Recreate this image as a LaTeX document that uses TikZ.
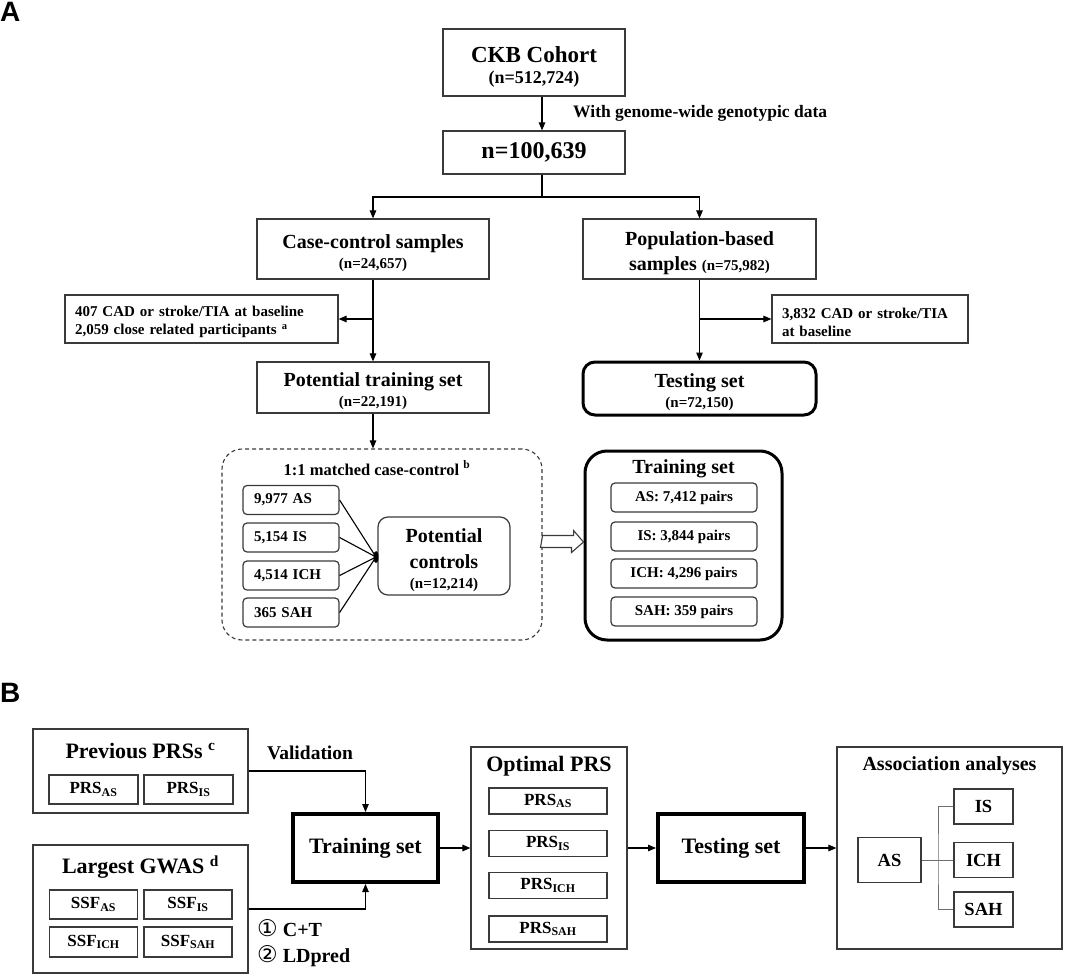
\documentclass[tikz,border=0pt]{standalone}
\usepackage{fontspec}
\setmainfont{Liberation Serif}
\newfontfamily\panelfont{Liberation Sans}
\newfontfamily\circfont{DejaVu Sans}
\usetikzlibrary{arrows.meta,calc}
\definecolor{boxgray}{HTML}{3A3A3A}
\definecolor{linkgray}{HTML}{6E6E6E}
\newcommand{\nsz}{\fontsize{15}{16}\selectfont}
\newcommand{\topstrut}{\rule{0pt}{1.1em}}

\begin{document}
\begin{tikzpicture}[x=1pt,y=-1pt,
        >={Stealth[length=8pt,width=6.5pt,inset=0pt]},
        f15/.style={font=\bfseries\fontsize{15}{18}\selectfont},
        f20/.style={font=\bfseries\fontsize{20}{20}\selectfont},
        f22/.style={font=\bfseries\fontsize{22}{24}\selectfont},
        panel/.style={anchor=base west,inner sep=0pt,font=\panelfont\bfseries\fontsize{28}{28}\selectfont},
        box/.style={draw=boxgray,line width=1.2pt,align=center,inner sep=0pt},
        leftbox/.style={box,f15,align=left,inner xsep=10pt},
        roundthick/.style={draw=black,line width=3pt,rounded corners=12pt,align=center,inner sep=0pt,f20},
        bigthick/.style={draw=black,line width=4pt,align=center,inner sep=0pt,f22},
        casebox/.style={box,rounded corners=4pt,f15,align=left,text width=74pt,inner xsep=11pt,minimum height=29pt},
        pairbox/.style={box,rounded corners=4pt,f15,minimum width=146pt,minimum height=29pt},
        subbox/.style={box,font=\bfseries\fontsize{17}{17}\selectfont},
        endbox/.style={box,font=\bfseries\fontsize{18.5}{18}\selectfont},
        conn/.style={draw=black,line width=1.1pt},
    ]
    \useasboundingbox (0,0) rectangle (1080,974);

    % ---- panel A
    \node[panel] (labA) at (0,22) {A};
    \node[box,minimum width=182,minimum height=67,font=\bfseries\fontsize{23}{21}\selectfont] (ckb) at (534,62.5)
        {\topstrut CKB Cohort\\{\fontsize{18}{16}\selectfont (n=512,724)}};
    \node[box,minimum width=182,minimum height=43,font=\bfseries\fontsize{24}{26}\selectfont] (n100) at (534,152.5) {n=100,639};
    \node[anchor=west,inner sep=0pt,font=\bfseries\fontsize{17.5}{20}\selectfont] (gwnote) at (573,113) {With genome-wide genotypic data};
    \coordinate (split) at (542,197);

    \node[box,f20,minimum width=232,minimum height=60] (cc) at (373,249) {\topstrut Case-control samples\\{\nsz (n=24,657)}};
    \node[box,minimum width=233,minimum height=60,font=\bfseries\fontsize{20}{25}\selectfont] (pop) at (699.5,249)
        {\topstrut Population-based\\samples {\nsz (n=75,982)}};
    \node[leftbox,text width=253,minimum height=48] (exL) at (201.5,319)
        {\topstrut 407 CAD or stroke/TIA at baseline\\2,059 close related participants \textsuperscript{a}};
    \node[leftbox,text width=176,minimum height=48] (exR) at (870,319)
        {\topstrut 3,832 CAD or stroke/TIA\\at baseline};
    \node[box,f20,minimum width=232,minimum height=51] (ptrain) at (373,387.5) {\topstrut Potential training set\\{\nsz (n=22,191)}};
    \node[roundthick,minimum width=233,minimum height=53] (testA) at (699.5,388.5) {\topstrut Testing set\\{\nsz (n=72,150)}};

    \draw[conn] (n100.south -| split) -- (split);
    \draw[conn,->] (ckb.south -| split) -- (n100.north -| split);
    \draw[conn,->] (split) -| (cc.north);
    \draw[conn,->] (split) -| (pop.north);
    \draw[conn,->] (cc.south) -- (ptrain.north);
    \draw[conn,->] (cc.south |- exL.east) -- (exL.east);
    \draw[conn,->] (pop.south) -- (testA.north);
    \draw[conn,->] (pop.south |- exR.west) -- (exR.west);

    % matching
    \node[draw=boxgray,line width=1.1pt,dash pattern=on 4pt off 3pt,rounded corners=20pt,
        minimum width=320,minimum height=191] (matchbox) at (382,544.5) {};
    \node[font=\bfseries\fontsize{16.5}{18}\selectfont] (matchtitle) at (377,468) {1:1 matched case-control \textsuperscript{b}};
    \draw[conn,->] (ptrain.south) -- (ptrain.south |- matchbox.north);
    \node[casebox] (caseAS) at (291,500) {9,977 AS};
    \node[casebox] (caseIS) at (291,537.5) {5,154 IS};
    \node[casebox] (caseICH) at (291,575.5) {4,514 ICH};
    \node[casebox] (caseSAH) at (291,612.5) {365 SAH};
    \node[box,rounded corners=10pt,minimum width=132,minimum height=78,font=\bfseries\fontsize{20}{26}\selectfont] (pctrl) at (444,556)
        {\topstrut Potential\\controls\\[-6pt]{\nsz (n=12,214)}};
    \coordinate (conv) at (376,557);
    \draw[conn] (caseAS.east) -- (conv);
    \draw[conn] (caseIS.east) -- (conv);
    \draw[conn] (caseICH.east) -- (conv);
    \draw[conn] (caseSAH.east) -- (conv);
    \fill (conv) ellipse [x radius=2.5, y radius=6];

    \node[roundthick,rounded corners=22pt,minimum width=197,minimum height=189] (trainA) at (683.5,545.5) {};
    \node[f20] (trainAtitle) at (683.5,469) {Training set};
    \node[pairbox] (pairAS) at (684,497.5) {AS: 7,412 pairs};
    \node[pairbox] (pairIS) at (684,536.5) {IS: 3,844 pairs};
    \node[pairbox] (pairICH) at (684,573.5) {ICH: 4,296 pairs};
    \node[pairbox] (pairSAH) at (684,611.5) {SAH: 359 pairs};

    % hollow arrow
    \coordinate (harrow) at ([yshift=3.5pt]matchbox.east);
    \draw[draw=boxgray,line width=1.1pt,fill=white] (harrow) ++(0,-5.5) -- ++(31,0) -- ++(0,-5)
        -- ([yshift=3.5pt]trainA.west) -- ++(-12,10.5) -- ++(0,-5) -- ++(-31,0) -- cycle;

    % ---- panel B
    \node[panel] (labB) at (0,702) {B};
    \node[box,minimum width=215,minimum height=84] (prev) at (140.5,771) {};
    \node[f22] (prevtitle) at (140.5,751) {Previous PRSs \textsuperscript{c}};
    \node[subbox,minimum width=89,minimum height=29] (prevAS) at (93.5,789.5) {PRS\textsubscript{AS}};
    \node[subbox,minimum width=89,minimum height=29] (prevIS) at (188.5,789.5) {PRS\textsubscript{IS}};

    \node[box,minimum width=215,minimum height=128] (gwas) at (140.5,909) {};
    \node[f22] (gwastitle) at (140.5,867) {Largest GWAS \textsuperscript{d}};
    \node[subbox,minimum width=88,minimum height=29] (ssfAS) at (93.5,904.5) {SSF\textsubscript{AS}};
    \node[subbox,minimum width=88,minimum height=29] (ssfIS) at (188,904.5) {SSF\textsubscript{IS}};
    \node[subbox,minimum width=88,minimum height=30] (ssfICH) at (93.5,942) {SSF\textsubscript{ICH}};
    \node[subbox,minimum width=88,minimum height=30] (ssfSAH) at (188,942) {SSF\textsubscript{SAH}};

    \node[bigthick,minimum width=145,minimum height=68] (trainB) at (365.5,848) {Training set};
    \node[font=\bfseries\fontsize{19.5}{20}\selectfont] (valid) at (310,753) {Validation};
    \node[anchor=west,align=left,inner sep=0pt,font=\bfseries\fontsize{20}{26}\selectfont] (methods) at (257,943)
        {{\circfont\mdseries\fontsize{23}{26}\selectfont ①} C+T\\{\circfont\mdseries\fontsize{23}{26}\selectfont ②} LDpred};

    \node[box,minimum width=156,minimum height=202] (optimal) at (549,848) {};
    \node[f22] (opttitle) at (549,766) {Optimal PRS};
    \node[subbox,minimum width=118,minimum height=26] (optAS) at (548,801) {PRS\textsubscript{AS}};
    \node[subbox,minimum width=118,minimum height=26] (optIS) at (548,843.5) {PRS\textsubscript{IS}};
    \node[subbox,minimum width=118,minimum height=26] (optICH) at (548,885.5) {PRS\textsubscript{ICH}};
    \node[subbox,minimum width=118,minimum height=26] (optSAH) at (548,929) {PRS\textsubscript{SAH}};

    \node[bigthick,minimum width=146,minimum height=68] (testB) at (731,848) {Testing set};

    \node[box,minimum width=225,minimum height=202] (assoc) at (949.5,848) {};
    \node[f20] (assoctitle) at (949.5,766) {Association analyses};
    \node[endbox,minimum width=63,minimum height=45] (asAS) at (889.5,860) {AS};
    \node[endbox,minimum width=59,minimum height=35] (asIS) at (983.5,806.5) {IS};
    \node[endbox,minimum width=59,minimum height=35] (asICH) at (983.5,860) {ICH};
    \node[endbox,minimum width=59,minimum height=35] (asSAH) at (983.5,909.5) {SAH};
    \coordinate (fork) at (938,860);

    \draw[conn,->] (prev.east) -| (trainB.north);
    \draw[conn,->] (gwas.east) -| (trainB.south);
    \draw[conn,->] (trainB.east) -- (optimal.west);
    \draw[conn,->] (optimal.east) -- (testB.west);
    \draw[conn,->] (testB.east) -- (assoc.west);
    \draw[linkgray,line width=0.9pt] (asAS.east) -- (asICH.west);
    \draw[linkgray,line width=0.9pt] (asIS.west) -| (fork) |- (asSAH.west);
\end{tikzpicture}
\end{document}
